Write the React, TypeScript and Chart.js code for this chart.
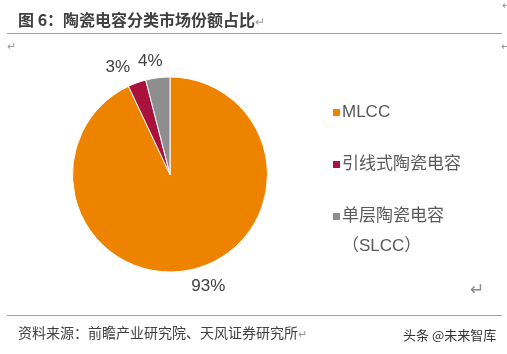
import React, { useEffect, useRef } from "react";
import { Chart, registerables } from "chart.js";

Chart.register(...registerables);

const categories: (string | string[])[] = ["MLCC", "引线式陶瓷电容", ["单层陶瓷电容", "（SLCC）"]];
const shares: number[] = [93, 3, 4];
const sliceColors: string[] = ["#EE8300", "#A8123C", "#8E8E8E"];
const titleText = "图 6：陶瓷电容分类市场份额占比";
const sourceText = "资料来源：前瞻产业研究院、天风证券研究所";
const watermark = "头条 @未来智库";

const FONT = '"Liberation Sans", Arial, "Noto Sans CJK SC", sans-serif';

const clamp = (v: number) => Math.max(-1, Math.min(1, v));

const pctLabels = {
  id: "pctLabels",
  afterDatasetsDraw(chart: any) {
    const ctx = chart.ctx;
    const meta = chart.getDatasetMeta(0);
    const data = chart.data.datasets[0].data as number[];
    ctx.save();
    ctx.font = `17px ${FONT}`;
    ctx.fillStyle = "#404040";
    ctx.textBaseline = "middle";
    ctx.textAlign = "center";
    const boxes: { cx: number; cy: number; w: number; h: number }[] = [];
    meta.data.forEach((arc: any, i: number) => {
      const p = arc.getProps(["x", "y", "startAngle", "endAngle", "outerRadius"], true);
      const mid = (p.startAngle + p.endAngle) / 2;
      const dx = Math.cos(mid);
      const dy = Math.sin(mid);
      const txt = `${data[i]}%`;
      const w = ctx.measureText(txt).width;
      const h = 13;
      const ax = p.x + dx * (p.outerRadius + 10);
      const ay = p.y + dy * (p.outerRadius + 10);
      boxes.push({ cx: ax + (clamp(dx * 4) * w) / 2, cy: ay + (clamp(dy * 4) * h) / 2, w, h });
    });
    // resolve overlaps: push earlier labels away from later ones
    for (let i = boxes.length - 1; i > 0; i--) {
      const a = boxes[i - 1];
      const b = boxes[i];
      const overlapX = (a.w + b.w) / 2 + 8 - Math.abs(a.cx - b.cx);
      const overlapY = (a.h + b.h) / 2 - Math.abs(a.cy - b.cy);
      if (overlapX > 0 && overlapY > 0) {
        const dir = a.cx <= b.cx ? -1 : 1;
        a.cx += dir * overlapX;
      }
    }
    boxes.forEach((b, i) => {
      ctx.fillText(`${data[i]}%`, b.cx, b.cy);
    });
    ctx.restore();
  },
};

function Legend() {
  return (
    <div
      style={{
        position: "absolute",
        left: 333,
        top: 97,
        display: "flex",
        flexDirection: "column",
        gap: 22,
        fontFamily: FONT,
        fontSize: 17,
        color: "#595959",
      }}
    >
      {categories.map((c, i) => {
        const lines = Array.isArray(c) ? c : [c];
        return (
          <div key={i} style={{ display: "flex", alignItems: "flex-start" }}>
            <div
              style={{
                width: 7,
                height: 7,
                marginTop: 11.5,
                marginRight: 2,
                background: sliceColors[i],
                flex: "none",
              }}
            />
            <div style={{ lineHeight: "30px", whiteSpace: "nowrap" }}>
              {lines.map((l, j) => (
                <div key={j}>{l}</div>
              ))}
            </div>
          </div>
        );
      })}
    </div>
  );
}

export default function App() {
  const canvasRef = useRef<HTMLCanvasElement | null>(null);

  useEffect(() => {
    document.body.style.margin = "0";
    const canvas = canvasRef.current;
    if (!canvas) return;
    const chart = new Chart(canvas, {
      type: "pie",
      data: {
        labels: categories.map((c) => (Array.isArray(c) ? c.join("") : c)),
        datasets: [
          {
            data: shares,
            backgroundColor: sliceColors,
            borderColor: "#ffffff",
            borderWidth: 1,
          },
        ],
      },
      options: {
        responsive: false,
        animation: false,
        events: [],
        layout: { padding: { left: 72, right: 239, top: 76, bottom: 81 } },
        plugins: {
          legend: { display: false },
          tooltip: { enabled: false },
          title: { display: false },
        },
      },
      plugins: [pctLabels],
    });
    return () => chart.destroy();
  }, []);

  const mark = (left: number, top: number, size = 11, color = "#9a9a9a") => (
    <div
      style={{
        position: "absolute",
        left,
        top,
        fontSize: size,
        color,
        fontFamily: FONT,
        lineHeight: 1,
      }}
    >
      ↵
    </div>
  );

  return (
    <div
      style={{
        position: "fixed",
        left: 0,
        top: 0,
        width: 507,
        height: 354,
        background: "#ffffff",
        overflow: "hidden",
      }}
    >
      <canvas
        ref={canvasRef}
        width={507}
        height={354}
        style={{ position: "absolute", left: 0, top: 0, width: 507, height: 354 }}
      />
      <div
        style={{
          position: "absolute",
          left: 18,
          top: 9,
          fontFamily: '"Noto Sans CJK SC", sans-serif',
          fontWeight: 700,
          fontSize: 16,
          lineHeight: "20px",
          color: "#404040",
          whiteSpace: "nowrap",
        }}
      >
        {titleText}
        <span style={{ fontWeight: 400, color: "#9a9a9a", fontSize: 12 }}>↵</span>
      </div>
      <div style={{ position: "absolute", left: 7, top: 33, width: 495, height: 1, background: "#E8923F" }} />
      {mark(7, 41)}
      {mark(501, 41)}
      {mark(502, 0)}
      <Legend />
      {mark(470, 281, 17, "#8a8a8a")}
      <div style={{ position: "absolute", left: 7, top: 315, width: 495, height: 1, background: "#E8923F" }} />
      <div
        style={{
          position: "absolute",
          left: 18,
          top: 323,
          fontFamily: '"Noto Sans CJK SC", sans-serif',
          fontSize: 14,
          lineHeight: "18px",
          color: "#404040",
          whiteSpace: "nowrap",
        }}
      >
        {sourceText}
        <span style={{ color: "#9a9a9a", fontSize: 11 }}>↵</span>
      </div>
      <div
        style={{
          position: "absolute",
          left: 403,
          top: 327,
          fontFamily: '"Noto Sans CJK SC", sans-serif',
          fontSize: 13,
          lineHeight: "16px",
          color: "#333333",
          whiteSpace: "nowrap",
        }}
      >
        {watermark}
      </div>
    </div>
  );
}
